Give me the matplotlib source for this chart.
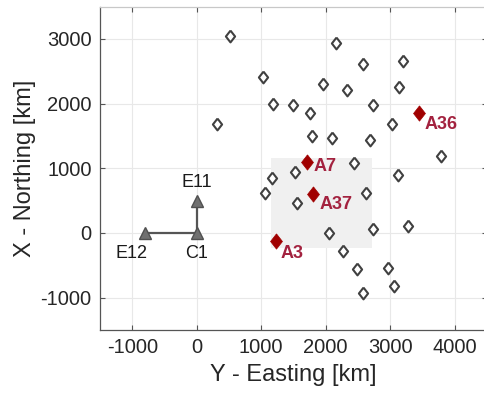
import matplotlib
matplotlib.use("Agg")
import matplotlib.pyplot as plt
from matplotlib.patches import Rectangle

plt.rcParams['font.family'] = ['Liberation Sans', 'DejaVu Sans']
plt.rcParams['axes.unicode_minus'] = False

# open diamond stations (Y-Easting, X-Northing) in km
open_y = [520, 2160, 2575, 3200, 1030, 1955, 2330, 3140, 1180, 1490, 1760, 2740,
          310, 3020, 1780, 2090, 2685, 3780, 2435, 1165, 1520, 3125, 1065, 1555,
          2620, 2730, 3270, 2050, 2270, 2485, 2965, 3065, 2575]
open_x = [3050, 2930, 2610, 2665, 2410, 2300, 2210, 2250, 2000, 1985, 1860, 1970,
          1690, 1680, 1505, 1470, 1430, 1190, 1085, 855, 935, 900, 615, 460,
          620, 65, 110, 5, -280, -555, -535, -825, -930]

# highlighted stations
hl_names = ['A36', 'A7', 'A37', 'A3']
hl_y = [3450, 1710, 1810, 1230]
hl_x = [1850, 1090, 605, -130]

# reference array
ref_names = ['E12', 'C1', 'E11']
ref_y = [-800, 0, 0]
ref_x = [0, 0, 500]

# shaded area
rect_y = [1150, 2710]
rect_x = [-240, 1160]

fig = plt.figure(figsize=(4.85, 3.94), dpi=100)
ax = fig.add_axes([100/485, 64/394, 387/485, 323.5/394])
ax.set_xlim(-1500, 4500)
ax.set_ylim(-1500, 3500)

ax.add_patch(Rectangle((rect_y[0], rect_x[0]), rect_y[1]-rect_y[0], rect_x[1]-rect_x[0],
                       facecolor='#f0f0f0', edgecolor='none', zorder=1))

diamond = [(0, 1), (0.78, 0), (0, -1), (-0.78, 0), (0, 1)]
ax.plot(open_y, open_x, linestyle='none', marker=diamond, markersize=8.5,
        markerfacecolor='white', markeredgecolor='#404040', markeredgewidth=1.5, zorder=3)
ax.plot(hl_y, hl_x, linestyle='none', marker=diamond, markersize=11,
        markerfacecolor='#a00000', markeredgecolor='#a00000', markeredgewidth=0.5, zorder=4)

hl_off = [(4, -8), (5, -3), (4, -8), (3, -9)]
for n, yv, xv, off in zip(hl_names, hl_y, hl_x, hl_off):
    ax.annotate(n, (yv, xv), xytext=off, textcoords='offset points', ha='left', va='center',
                fontsize=13, fontweight='bold', color='#a3223f', zorder=5)

ax.plot([ref_y[0], ref_y[1]], [ref_x[0], ref_x[1]], color='#555555', lw=1.6, zorder=3)
ax.plot([ref_y[1], ref_y[2]], [ref_x[1], ref_x[2]], color='#555555', lw=1.6, zorder=3)
ax.plot(ref_y, ref_x, linestyle='none', marker='^', markersize=8.5,
        markerfacecolor='#707070', markeredgecolor='#505050', markeredgewidth=1, zorder=4)
ref_off = [(-10, -15), (0, -15), (0, 13)]
for n, yv, xv, off in zip(ref_names, ref_y, ref_x, ref_off):
    ax.annotate(n, (yv, xv), xytext=off, textcoords='offset points', ha='center', va='center',
                fontsize=13, color='#1a1a1a', zorder=5)

ax.set_xticks([-1000, 0, 1000, 2000, 3000, 4000])
ax.set_yticks([-1000, 0, 1000, 2000, 3000])
ax.grid(True, color='#e8e8e8', lw=0.8, zorder=0)
ax.set_axisbelow(True)
ax.tick_params(direction='in', length=3.5, width=0.8, colors='#555555', labelcolor='#262626',
               labelsize=14.5, top=True, right=True, pad=6)
for s in ['left', 'bottom']:
    ax.spines[s].set_color('#555555')
    ax.spines[s].set_linewidth(0.9)
for s in ['top', 'right']:
    ax.spines[s].set_color('#c8c8c8')
    ax.spines[s].set_linewidth(0.9)

ax.set_xlabel('Y - Easting [km]', fontsize=17, color='#262626', labelpad=5)
ax.set_ylabel('X - Northing [km]', fontsize=17, color='#262626', labelpad=3)

fig.savefig('out.png', dpi=100)
